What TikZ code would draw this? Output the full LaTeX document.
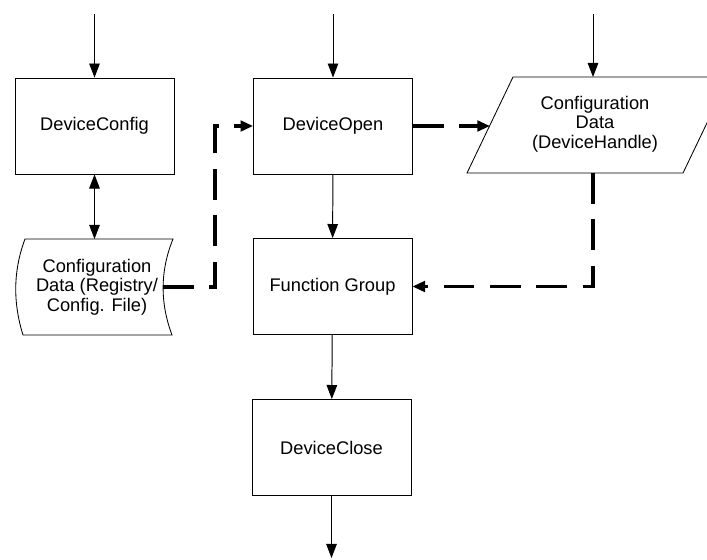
\documentclass[tikz,border=0pt]{standalone}
\usepackage{fontspec}
\setmainfont{Liberation Sans}
\usetikzlibrary{arrows.meta}
\tikzset{
  block/.style={draw, line width=0.6pt, minimum width=3.97cm, minimum height=2.4cm,
    font=\fontsize{13}{14}\selectfont, align=center},
  boxtext/.style={font=\fontsize{13}{14}\selectfont, align=center, inner sep=0pt},
  flow/.style={line width=0.7pt, -{Triangle[length=10pt,width=7.5pt]}},
  twoway/.style={line width=0.7pt, {Triangle[length=10pt,width=7.5pt]}-{Triangle[length=10pt,width=7.5pt]}},
  dataflow/.style={line width=2.6pt, dash pattern=on 22pt off 11pt,
    -{Triangle[length=9pt,width=7.5pt]}},
}
\begin{document}
\begin{tikzpicture}[x=0.025cm, y=-0.025cm]
    \clip (0,0) rectangle (707,559);
    % main column
    \node[block] (config) at (94.5,126) {DeviceConfig};
    \node[block] (open) at (333,126) {DeviceOpen};
    \node[block] (func) at (332.5,286.5) {Function Group};
    \node[block] (close) at (331.5,447.5) {DeviceClose};
    % stored data
    \draw[line width=0.6pt] (25,239) -- (173,239)
        .. controls (160,271) and (160,303) .. (172,335) -- (23,335)
        .. controls (13,303) and (13,271) .. (25,239) -- cycle;
    \node[boxtext] (registry) at (97,287) {Configuration\\Data (Registry/\\Config. File)};
    \coordinate (regtop) at (94.5,239);
    \coordinate (regright) at (163,287);
    \coordinate (bend) at (215,287);
    % handle data
    \draw[line width=0.6pt] (513,77) -- (729,77) -- (683,173) -- (467,173) -- cycle;
    \node[boxtext] (handle) at (595,124) {Configuration\\Data\\(DeviceHandle)};
    \coordinate (handletop) at (593,77);
    \coordinate (handleleft) at (490,126);
    \coordinate (handlebot) at (593,173);
    % loose ends
    \coordinate (in1) at (94.5,14);
    \coordinate (in2) at (333,14);
    \coordinate (in3) at (593,14);
    \coordinate (out) at (331.5,558);
    \draw[flow] (in1) -- (config);
    \draw[flow] (in2) -- (open);
    \draw[flow] (in3) -- (handletop);
    \draw[flow] (open) -- (func);
    \draw[flow] (func) -- (close);
    \draw[flow] (close) -- (out);
    \draw[twoway] (config) -- (regtop);
    \draw[dataflow] (regright) -- (bend) |- (open.west);
    \draw[dataflow] (open.east) -- (handleleft);
    \draw[dataflow] (handlebot) |- (func.east);
\end{tikzpicture}
\end{document}
